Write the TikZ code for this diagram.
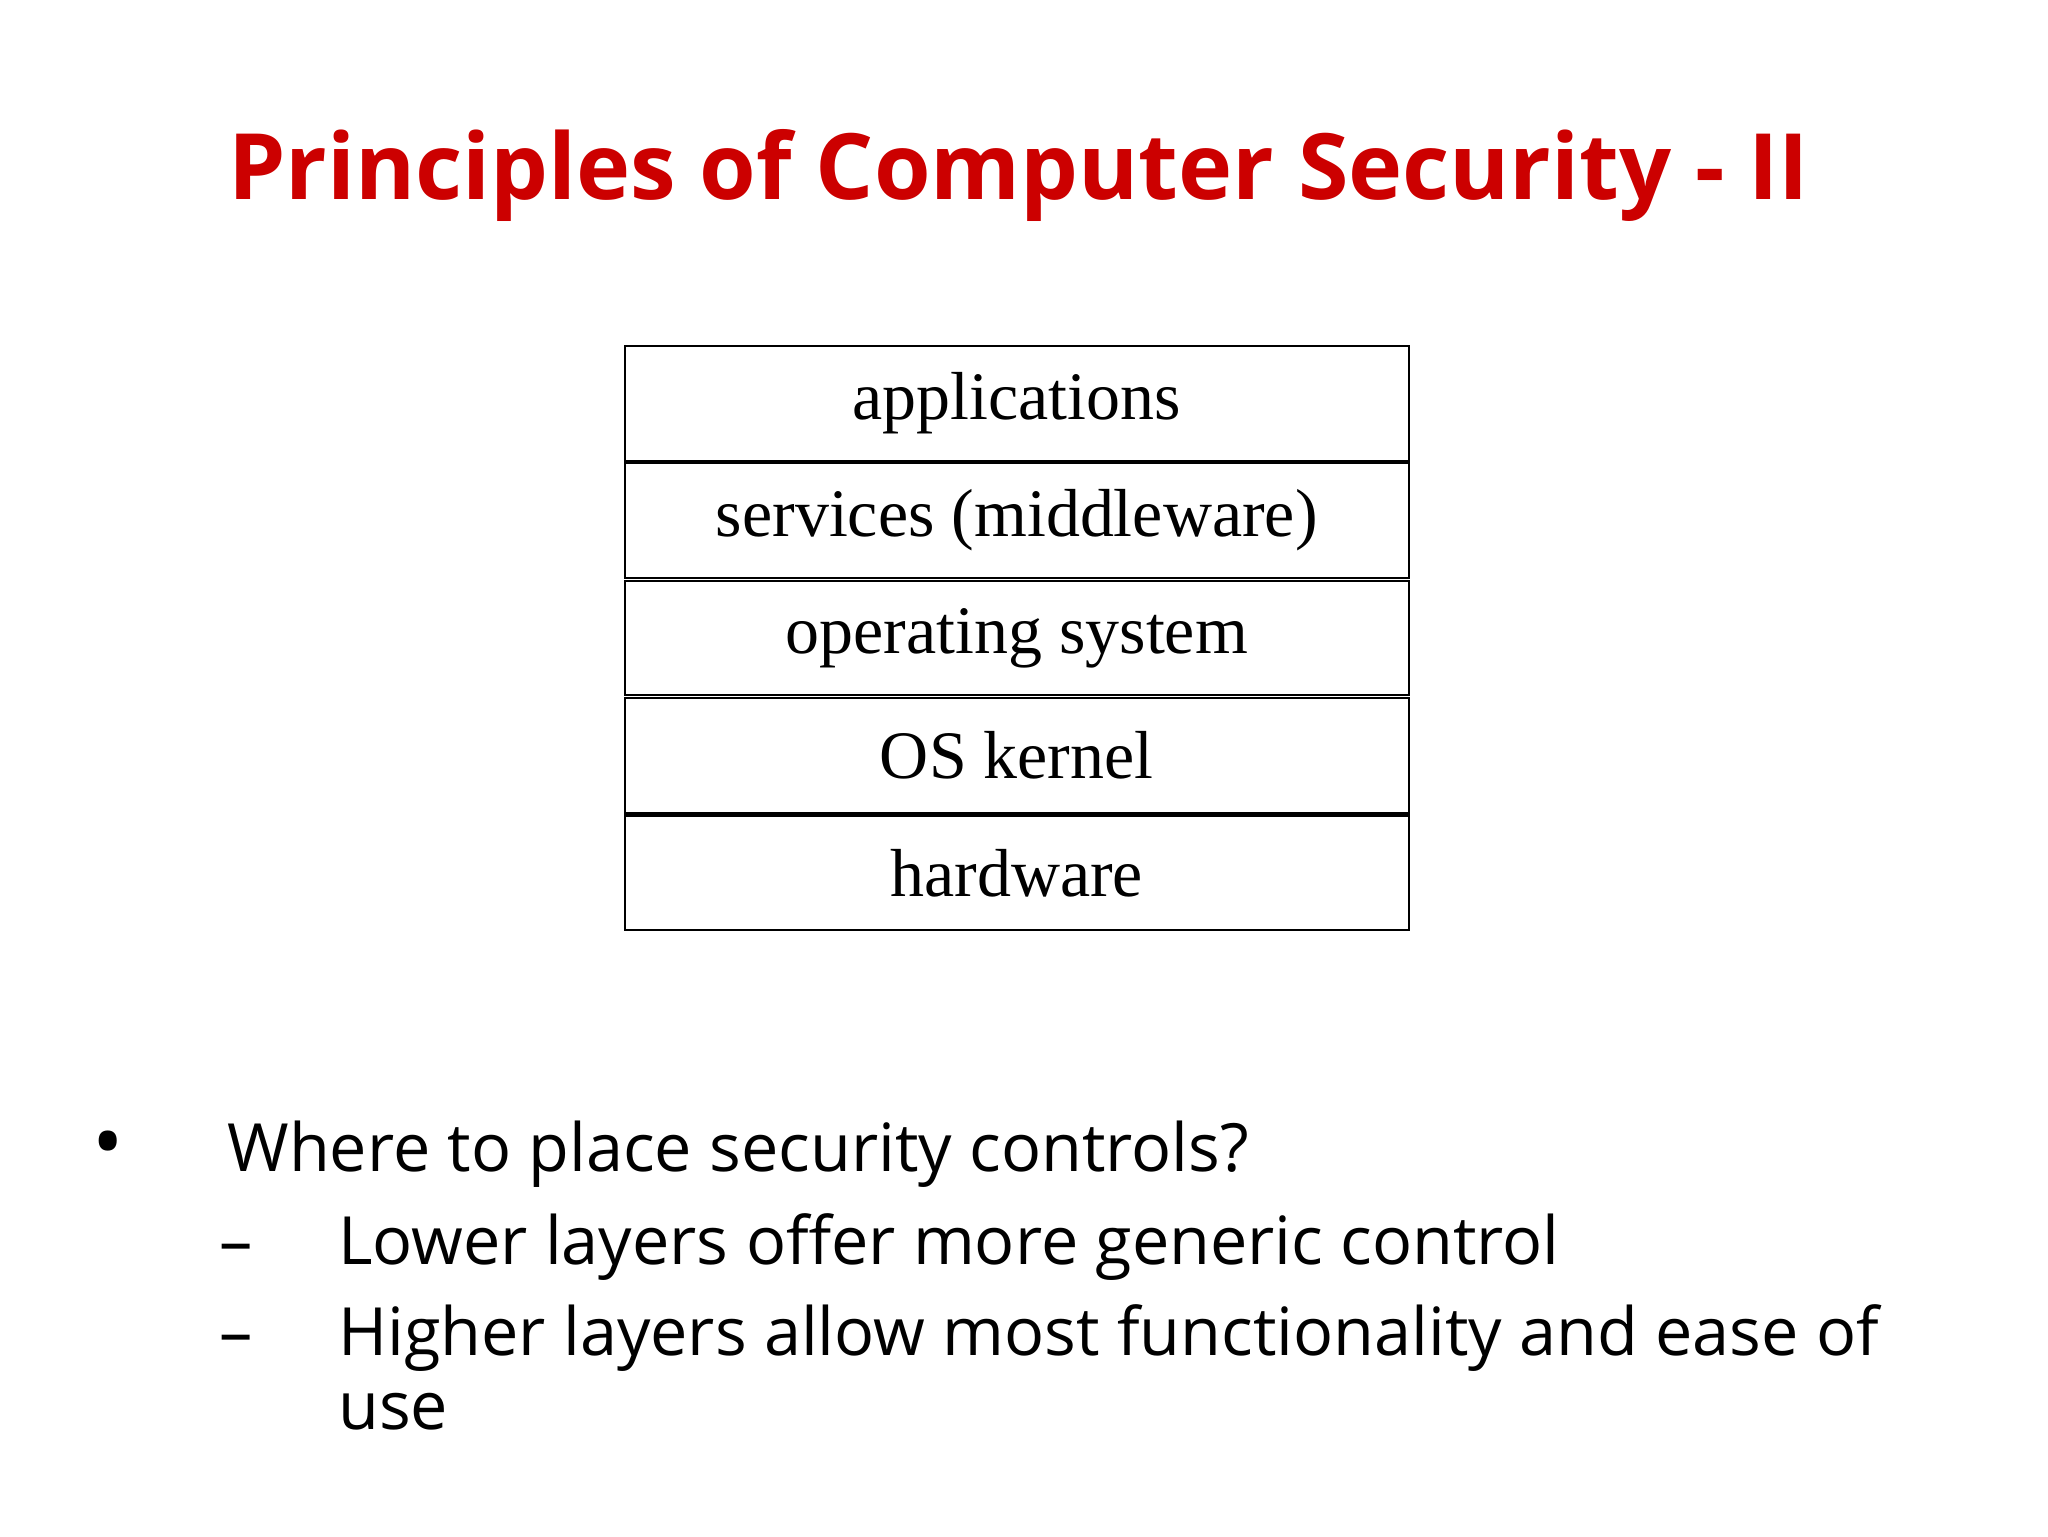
\documentclass[tikz,border=0pt]{standalone}
\usepackage{fontspec}
\setmainfont{Liberation Serif}
\newfontfamily\titlefont{Open Sans}
\newfontfamily\bodyfont{Open Sans}
\definecolor{titlered}{RGB}{204,0,0}
\begin{document}
\begin{tikzpicture}[x=0.02cm,y=-0.02cm]
\tikzset{layer/.style={draw,line width=0.9pt,minimum width=594*0.02cm,minimum height=87*0.02cm,inner sep=0pt,font=\fontsize{29.3}{34}\selectfont},
body/.style={anchor=base west,inner sep=0pt,font=\bodyfont\fontsize{28.7}{34}\selectfont}}
\useasboundingbox (0,0) rectangle (1552,1164);
\node[font=\titlefont\bfseries\fontsize{39.5}{48}\selectfont,text=titlered,anchor=base] (title) at (772,151) {Principles of Computer Security - II};
\node[layer] (l1) at (770.5,305.5) {applications};
\node[layer] (l2) at (770.5,394.5) {services (middleware)};
\node[layer] (l3) at (770.5,483.5) {operating system};
\node[layer] (l4) at (770.5,572.5) {OS kernel};
\node[layer] (l5) at (770.5,661.5) {hardware};
\node[body,font=\bodyfont\fontsize{36}{40}\selectfont] (b0) at (70,888) {•};
\node[body] (b1) at (172,888) {Where to place security controls?};
\node[body] (d1) at (166,958) {–};
\node[body] (t1) at (256,958) {Lower layers offer more generic control};
\node[body] (d2) at (166,1027) {–};
\node[body] (t2) at (256,1027) {Higher layers allow most functionality and ease of};
\node[body] (t3) at (256,1083) {use};
\end{tikzpicture}
\end{document}
